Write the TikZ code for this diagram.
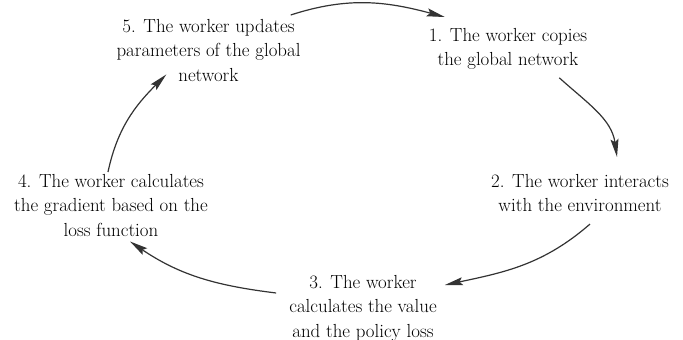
\documentclass[tikz,border=0pt]{standalone}
\usetikzlibrary{arrows.meta,calc}
\begin{document}
\begin{tikzpicture}[x=1pt,y=-1pt,
  lbl/.style={align=center,inner sep=0pt,anchor=north,
    font=\fontsize{18.9}{24.4}\selectfont},
  cyc/.style={draw=black!80,line width=1.2pt,
    -{Stealth[length=18pt,width=8pt,inset=3pt]}}]
  \useasboundingbox (0,0) rectangle (683,340);

  % the five steps of the worker cycle
  \node[lbl] (n1) at (508,28) {1. The worker copies\\the global network};
  \node[lbl] (n2) at (580,174) {2. The worker interacts\\with the environment};
  \node[lbl] (n3) at (363,275) {3. The worker\\calculates the value\\and the policy loss};
  \node[lbl] (n4) at (111,174) {4. The worker calculates\\the gradient based on the\\loss function};
  \node[lbl] (n5) at (208.5,19) {5. The worker updates\\parameters of the global\\network};

  % curved arrows closing the cycle
  \draw[cyc] ($(n5.north east)+(-10,-4)$) to[out=18,in=165] ($(n1.north west)+(16,-11)$);
  \draw[cyc] ($(n1.south east)+(-28,8)$) to[out=-42,in=98] ($(n2.north)+(37,-17)$);
  \draw[cyc] ($(n2.south)+(10,12)$) to[out=-139,in=12] ($(n3.north east)+(8,10)$);
  \draw[cyc] ($(n3.north west)+(-13,18)$) to[out=173,in=-34] ($(n4.south)+(19,5)$);
  \draw[cyc] ($(n4.north)+(-3,-2)$) to[out=78,in=225] ($(n5.south west)+(50,-7)$);
\end{tikzpicture}
\end{document}
